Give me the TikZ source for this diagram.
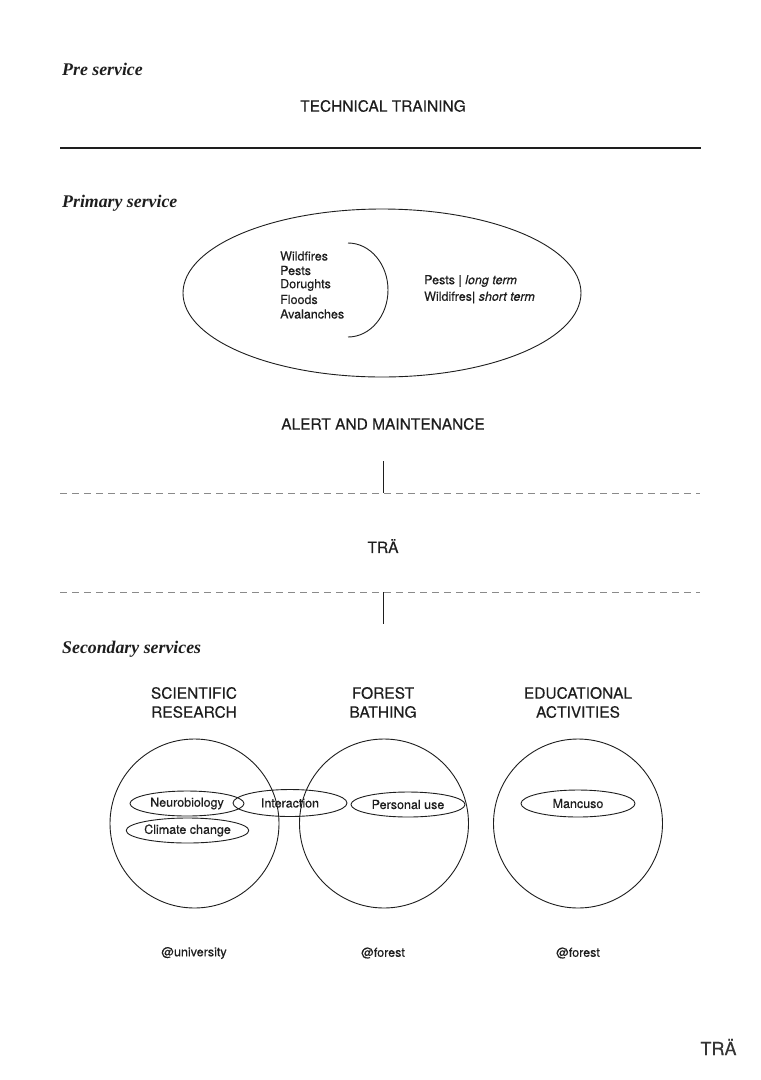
\documentclass[tikz,border=0pt]{standalone}
\usepackage{fontspec}
\setmainfont{TeX Gyre Heros}[FakeBold=0.3]
\newfontfamily\titlefont{Liberation Serif Bold Italic}
\usetikzlibrary{shapes.geometric}
\definecolor{ink}{HTML}{1E1E1E}
\definecolor{dashgray}{HTML}{8A8A8A}
\begin{document}
\begin{tikzpicture}[x=1pt,y=-1pt,line join=round]
\tikzset{
  sect/.style={font=\titlefont\fontsize{17.8}{20}\selectfont, anchor=west, inner sep=0pt, text=ink},
  head/.style={font=\fontsize{15.5}{19}\selectfont, align=center, inner sep=0pt, text=ink},
  small/.style={font=\fontsize{12.5}{14.5}\selectfont, inner sep=0pt, text=ink},
  ring/.style={circle, draw=ink, line width=0.9pt, minimum size=169pt, inner sep=0pt},
  tag/.style={ellipse, draw=ink, line width=0.9pt, minimum width=114pt, minimum height=25pt, inner sep=0pt, font=\fontsize{12.5}{14.5}\selectfont, text=ink},
  dashsep/.style={draw=dashgray, line width=0.8pt, dash pattern=on 7pt off 5pt},
  link/.style={draw=ink, line width=1pt}
}
\useasboundingbox (0,0) rectangle (761,1080);
\fill[white] (0,0) rectangle (761,1080);

% Pre service
\node[sect] (pre) at (62,69) {Pre service};
\node[head] (tech) at (383,106) {TECHNICAL TRAINING};
\coordinate (topL) at (60,148);
\coordinate (topR) at (701,148);
\draw[draw=ink, line width=2pt] (topL) -- (topR);

% Primary service
\node[sect] (prim) at (62,203) {Primary service};
\node[ellipse, draw=ink, line width=0.9pt, minimum width=398pt, minimum height=168pt, inner sep=0pt] (big) at (382,293) {};
\coordinate (arcS) at (348,243);
\draw[draw=ink, line width=0.9pt] (arcS) arc[start angle=-90, end angle=90, x radius=40, y radius=47];
\node[small, anchor=west] (l1) at (280,256) {Wildfires};
\node[small, anchor=west] (l2) at (280,270.5) {Pests};
\node[small, anchor=west] (l3) at (280,285) {Dorughts};
\node[small, anchor=west] (l4) at (280,299.5) {Floods};
\node[small, anchor=west] (l5) at (280,314) {Avalanches};
\node[small, anchor=west] (r1) at (424,281) {Pests | \textit{long term}};
\node[small, anchor=west] (r2) at (424,297.5) {Wildifres| \textit{short term}};

\node[head] (alert) at (383,424) {ALERT AND MAINTENANCE};
\coordinate (v1a) at (383,461);
\coordinate (v1b) at (383,493);
\draw[link] (v1a) -- (v1b);
\coordinate (d1L) at (60,493);
\coordinate (d1R) at (700,493);
\draw[dashsep] (d1L) -- (d1R);

\node[head] (tra) at (383,546) {TRÄ};

\coordinate (d2L) at (60,592);
\coordinate (d2R) at (700,592);
\draw[dashsep] (d2L) -- (d2R);
\coordinate (v2a) at (383,592);
\coordinate (v2b) at (383,624);
\draw[link] (v2a) -- (v2b);

% Secondary services
\node[sect] (sec) at (62,649) {Secondary services};
\node[head] (h1) at (194,702.5) {SCIENTIFIC\\RESEARCH};
\node[head] (h2) at (383,702.5) {FOREST\\BATHING};
\node[head] (h3) at (578,702.5) {EDUCATIONAL\\ACTIVITIES};

\node[ring] (c1) at (194.5,823.5) {};
\node[ring] (c2) at (384,823.5) {};
\node[ring] (c3) at (578,823.5) {};

\node[tag] (neuro) at (187,803.5) {Neurobiology};
\node[tag, minimum height=27pt] (inter) at (290,803) {Interaction};
\node[tag] (pers) at (408,804.5) {Personal use};
\node[tag] (clim) at (187.5,830.5) {Climate change};
\node[tag, minimum height=27pt] (manc) at (578,803.5) {Mancuso};

\node[small] (u1) at (194,953) {@university};
\node[small] (u2) at (383,953) {@forest};
\node[small] (u3) at (578,953) {@forest};

\node[inner sep=0pt, font=\fontsize{18}{20}\selectfont, text=ink!90] (logo) at (718.5,1047) {TRÄ};
\end{tikzpicture}
\end{document}
